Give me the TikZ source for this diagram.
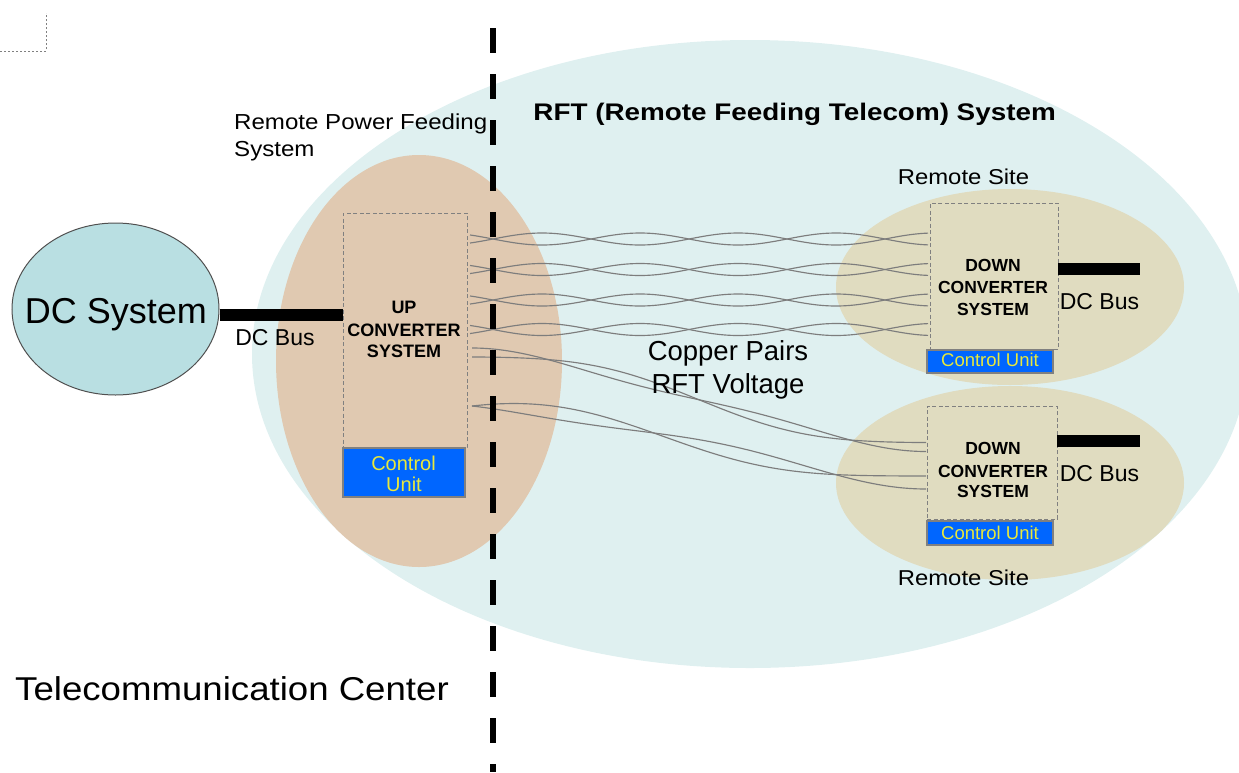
\documentclass[tikz,border=0pt]{standalone}
\usepackage{fontspec}
\setmainfont{Liberation Sans}
\newfontfamily\widefont[FakeStretch=1.11]{Liberation Sans}
\newfontfamily\titlefont[FakeStretch=1.16]{Liberation Sans}
\usetikzlibrary{shapes.geometric}
\definecolor{rftbg}{RGB}{223,240,240}
\definecolor{rpfc}{RGB}{224,201,177}
\definecolor{sitec}{RGB}{224,220,192}
\definecolor{dcc}{RGB}{185,223,226}
\definecolor{dcborder}{RGB}{80,80,80}
\definecolor{cublue}{RGB}{0,102,255}
\definecolor{cuyellow}{RGB}{232,232,60}
\definecolor{dashgray}{RGB}{128,128,128}
\definecolor{wiregray}{RGB}{125,125,125}
\begin{document}
\begin{tikzpicture}[x=1pt,y=-1pt,
  ell/.style={ellipse, inner sep=0pt, draw=none},
  dbox/.style={rectangle, draw=dashgray, dash pattern=on 4pt off 2.5pt, line width=0.9pt, inner sep=0pt},
  cubox/.style={rectangle, fill=cublue, draw=dashgray, line width=1.2pt, inner sep=0pt},
  bus/.style={line width=12pt, line cap=butt},
  wire/.style={draw=wiregray, line width=1.15pt},
  lbl/.style={inner sep=0pt, anchor=base},
  cutxt/.style={lbl, text=cuyellow},
  ]
\path[use as bounding box] (0,0) rectangle (1239,772);

% background ellipses
\node[ell, fill=rftbg, minimum width=996pt, minimum height=628pt] (rft) at (750,354) {};
\node[ell, fill=rpfc, minimum width=286pt, minimum height=412pt] (rpf) at (419,361) {};
\node[ell, fill=sitec, minimum width=348pt, minimum height=196pt] (site1) at (1010,287) {};
\node[ell, fill=sitec, minimum width=348pt, minimum height=194pt] (site2) at (1010,483) {};
\node[ell, fill=dcc, draw=dcborder, line width=1pt, minimum width=207pt, minimum height=172pt] (dcsys) at (115.5,309) {};

% corner mark
\draw[dashgray, dash pattern=on 2pt off 2pt, line width=0.9pt] (0,51) -- (46,51) -- (46,13);

% boxes
\node[dbox, minimum width=124pt, minimum height=234pt] (upbox) at (405,330) {};
\node[cubox, minimum width=122pt, minimum height=49pt] (upcu) at (404,472.5) {};
\node[dbox, minimum width=128pt, minimum height=146pt] (down1) at (994,276) {};
\node[cubox, minimum width=126pt, minimum height=23pt] (cu1) at (990,361.5) {};
\node[dbox, minimum width=130pt, minimum height=113pt] (down2) at (992,462.5) {};
\node[cubox, minimum width=126pt, minimum height=24pt] (cu2) at (990,533) {};

% copper pairs (straight twisted pairs)
\foreach \c in {239,269.5,300,329.5}{
  \draw[wire] plot[smooth, domain=470:928, samples=90] (\x, {\c + 6*sin((\x-493)/98*180)});
  \draw[wire] plot[smooth, domain=470:928, samples=90] (\x, {\c - 6*sin((\x-493)/98*180)});
}
% copper pairs going down to the second remote site
\draw[wire] plot[smooth, domain=472:926, samples=90]
  (\x, {352.5 + 94.5*((\x-472)/454)*((\x-472)/454)*(3-2*(\x-472)/454) - 4.5*cos((\x-472)/151.3*180)});
\draw[wire] plot[smooth, domain=472:926, samples=90]
  (\x, {352.5 + 94.5*((\x-472)/454)*((\x-472)/454)*(3-2*(\x-472)/454) + 4.5*cos((\x-472)/151.3*180)});
\draw[wire] plot[smooth, domain=472:926, samples=90]
  (\x, {406 + 76.5*((\x-472)/454)*((\x-472)/454)*(3-2*(\x-472)/454) - 6.5*sin((\x-472)/181.6*180)});
\draw[wire] plot[smooth, domain=472:926, samples=90]
  (\x, {406 + 76.5*((\x-472)/454)*((\x-472)/454)*(3-2*(\x-472)/454) + 6.5*sin((\x-472)/181.6*180)});

% DC buses
\coordinate (busl) at (0,315);
\coordinate (busr1) at (1140,269);
\coordinate (busr2) at (1140,440.5);
\draw[bus] (dcsys.east |- busl) -- (upbox.west |- busl);
\draw[bus] (down1.east |- busr1) -- (busr1);
\draw[bus] (down2.east |- busr2) -- (busr2);

% divider
\coordinate (divtop) at (493,28);
\coordinate (divbot) at (493,772);
\draw[line width=6pt, dash pattern=on 25pt off 21pt] (divtop) -- (divbot);

% texts
\node[lbl, font=\fontsize{36}{40}\selectfont] (tdc) at (116,323.5) {DC System};
\node[lbl, font=\fontsize{23}{27}\selectfont] (tbus0) at (275,345) {DC Bus};
\node[lbl, font=\fontsize{23}{27}\selectfont] (tbus1) at (1099.5,309) {DC Bus};
\node[lbl, font=\fontsize{23}{27}\selectfont] (tbus2) at (1099.5,481.5) {DC Bus};
\node[lbl, font=\fontsize{27.5}{31}\selectfont] (tcp1) at (728,360) {Copper Pairs};
\node[lbl, font=\fontsize{27.5}{31}\selectfont] (tcp2) at (728,393) {RFT Voltage};
\node[lbl, anchor=base west, font=\widefont\fontsize{21.7}{25}\selectfont] (trpf1) at (234,129) {Remote Power Feeding};
\node[lbl, anchor=base west, font=\widefont\fontsize{21.7}{25}\selectfont] (trpf2) at (234,156.5) {System};
\node[lbl, font=\titlefont\bfseries\fontsize{24}{28}\selectfont] (ttitle) at (794.6,120) {RFT (Remote Feeding Telecom) System};
\node[lbl, font=\widefont\fontsize{21.5}{25}\selectfont] (tsite1) at (963.5,184) {Remote Site};
\node[lbl, font=\widefont\fontsize{21.5}{25}\selectfont] (tsite2) at (963.5,585) {Remote Site};
\node[lbl, font=\widefont\fontsize{33}{37}\selectfont] (ttc) at (232,700) {Telecommunication Center};

\node[lbl, font=\bfseries\fontsize{18}{22}\selectfont] (tup1) at (404,313) {UP};
\node[lbl, font=\bfseries\fontsize{18}{22}\selectfont] (tup2) at (404,336) {CONVERTER};
\node[lbl, font=\bfseries\fontsize{18}{22}\selectfont] (tup3) at (404,357.7) {SYSTEM};
\node[lbl, font=\bfseries\fontsize{17.5}{21}\selectfont] (td11) at (993,271.7) {DOWN};
\node[lbl, font=\bfseries\fontsize{17.5}{21}\selectfont] (td12) at (993,293.3) {CONVERTER};
\node[lbl, font=\bfseries\fontsize{17.5}{21}\selectfont] (td13) at (993,315) {SYSTEM};
\node[lbl, font=\bfseries\fontsize{17.5}{21}\selectfont] (td21) at (993,454) {DOWN};
\node[lbl, font=\bfseries\fontsize{17.5}{21}\selectfont] (td22) at (993,477) {CONVERTER};
\node[lbl, font=\bfseries\fontsize{17.5}{21}\selectfont] (td23) at (993,497.5) {SYSTEM};

\node[cutxt, font=\fontsize{20}{24}\selectfont] (tcu0a) at (403.5,470.5) {Control};
\node[cutxt, font=\fontsize{20}{24}\selectfont] (tcu0b) at (404,491) {Unit};
\node[cutxt, font=\fontsize{18.5}{22}\selectfont] (tcu1) at (990,366.5) {Control Unit};
\node[cutxt, font=\fontsize{18.5}{22}\selectfont] (tcu2) at (990,539.3) {Control Unit};
\end{tikzpicture}
\end{document}
